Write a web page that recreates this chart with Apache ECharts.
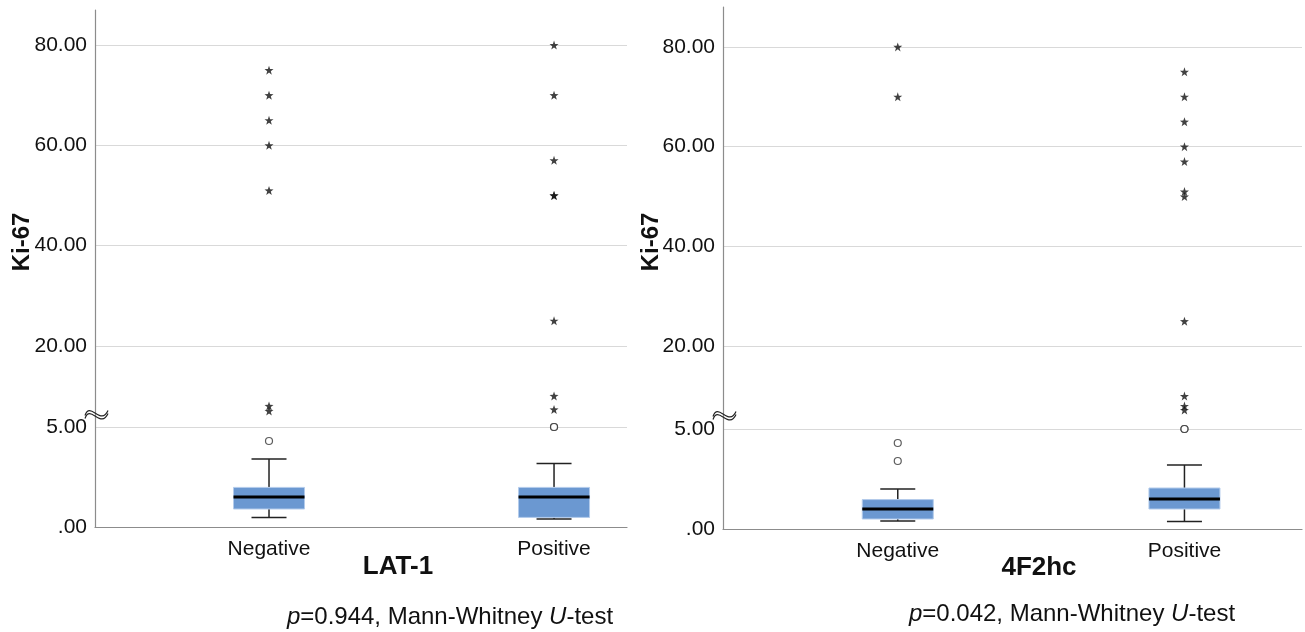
<!DOCTYPE html>
<html>
<head>
<meta charset="utf-8">
<script src="https://cdn.jsdelivr.net/npm/echarts@6/dist/echarts.min.js"></script>
<style>
html,body{margin:0;padding:0;background:#fff;}
#chart{width:1305px;height:632px;}
</style>
</head>
<body>
<div id="chart"></div>
<script>
// ---- data ----
const categories = ['Negative', 'Positive'];
const yTicksUpper = [20, 40, 60, 80];
const yTicksLower = [0, 5];
// LAT-1 : [min, Q1, median, Q3, max]
const lat1Box = [[0.48, 0.9, 1.5, 1.98, 3.4], [0.4, 0.48, 1.5, 1.98, 3.18]];
const lat1Circles = [[4.3], [5.0, 5.0]];
const lat1Stars = [[75, 70, 65, 60, 51, 8, 7], [80, 70, 57, 50, 50, 25, 10, 7.3]];
// 4F2hc
const f2Box = [[0.4, 0.5, 1.0, 1.47, 2.0], [0.38, 1.0, 1.5, 2.05, 3.2]];
const f2Circles = [[4.3, 3.4], [5.0, 5.0]];
const f2Stars = [[80, 70], [75, 70, 65, 60, 57, 51, 50, 25, 10, 8, 7.2]];
const titles = ['LAT-1', '4F2hc'];
const pValues = ['0.944', '0.042'];
const BREAK = 6;

// ---- layout / style ----
const BOX_W = 71, CAP_W = 35;
const AXIS_COLOR = '#8c8c8c', GRID_COLOR = '#d9d9d9', TEXT = '#111';
const STAR = 'path://M0,-10 L2.35,-3.24 L9.51,-3.09 L3.8,1.24 L5.88,8.09 L0,4 L-5.88,8.09 L-3.8,1.24 L-9.51,-3.09 L-2.35,-3.24 Z';

const panels = [
  {box: lat1Box, circles: lat1Circles, stars: lat1Stars, left: 95, width: 532,
   upTop: 10, upH: 406, upMax: 87, lowH: 111, lowMax: 5.55, xMin: -0.6105, xMax: 1.256},
  {box: f2Box, circles: f2Circles, stars: f2Stars, left: 723, width: 579,
   upTop: 7, upH: 409, upMax: 88, lowH: 113, lowMax: 5.65, xMin: -0.6096, xMax: 1.41}
];

function pts(groups, test) {
  const out = [];
  groups.forEach((vals, i) => vals.forEach(v => { if (test(v)) out.push([i, v]); }));
  return out;
}

function renderBox(params, api) {
  const x = api.value(0);
  const v = [1, 2, 3, 4, 5].map(d => api.value(d));
  const p = v.map(val => api.coord([x, val]));
  const cx = p[2][0], hw = BOX_W / 2, cw = CAP_W / 2;
  const ws = {stroke: '#222', lineWidth: 1.5};
  return {type: 'group', children: [
    {type: 'line', shape: {x1: cx, y1: p[4][1], x2: cx, y2: p[3][1]}, style: ws},
    {type: 'line', shape: {x1: cx, y1: p[1][1], x2: cx, y2: p[0][1]}, style: ws},
    {type: 'line', shape: {x1: cx - cw, y1: p[4][1], x2: cx + cw, y2: p[4][1]}, style: ws},
    {type: 'line', shape: {x1: cx - cw, y1: p[0][1], x2: cx + cw, y2: p[0][1]}, style: ws},
    {type: 'rect', shape: {x: cx - hw, y: p[3][1], width: 2 * hw, height: p[1][1] - p[3][1]},
     style: {fill: '#6b98d1', stroke: '#b3cbeb', lineWidth: 1}},
    {type: 'line', shape: {x1: cx - hw, y1: p[2][1], x2: cx + hw, y2: p[2][1]}, style: {stroke: '#000', lineWidth: 3}}
  ]};
}

const grid = [], xAxis = [], yAxis = [], series = [];
panels.forEach((P, k) => {
  const lowTop = P.upTop + P.upH;
  grid.push({left: P.left, top: P.upTop, width: P.width, height: P.upH});
  grid.push({left: P.left, top: lowTop, width: P.width, height: P.lowH});
  const up = 2 * k, lo = 2 * k + 1;
  xAxis.push({type: 'value', gridIndex: up, min: P.xMin, max: P.xMax, show: false});
  xAxis.push({type: 'value', gridIndex: lo, min: P.xMin, max: P.xMax,
    axisLine: {show: true, onZero: false, lineStyle: {color: AXIS_COLOR, width: 1.2}},
    axisTick: {show: false, customValues: [0, 1]}, splitLine: {show: false},
    axisLabel: {customValues: [0, 1], formatter: v => categories[Math.round(v)] || '',
      fontSize: 21, color: TEXT, margin: 12, fontFamily: 'Liberation Sans'}});
  yAxis.push({type: 'value', gridIndex: up, min: BREAK, max: P.upMax,
    axisLine: {show: true, onZero: false, lineStyle: {color: AXIS_COLOR, width: 1.2}},
    axisTick: {show: false, customValues: yTicksUpper},
    splitLine: {show: true, lineStyle: {color: GRID_COLOR, width: 1.2}},
    axisLabel: {customValues: yTicksUpper, formatter: v => v.toFixed(2),
      fontSize: 21, color: TEXT, margin: 8, padding: [4, 0, 0, 0], fontFamily: 'Liberation Sans'}});
  yAxis.push({type: 'value', gridIndex: lo, min: 0, max: P.lowMax,
    axisLine: {show: true, onZero: false, lineStyle: {color: AXIS_COLOR, width: 1.2}},
    axisTick: {show: false, customValues: yTicksLower},
    splitLine: {show: true, lineStyle: {color: GRID_COLOR, width: 1.2}},
    axisLabel: {customValues: yTicksLower, formatter: v => v === 0 ? '.00' : v.toFixed(2),
      fontSize: 21, color: TEXT, margin: 8, padding: [4, 0, 0, 0], fontFamily: 'Liberation Sans'}});

  series.push({type: 'custom', xAxisIndex: lo, yAxisIndex: lo, renderItem: renderBox,
    encode: {x: 0, y: [1, 2, 3, 4, 5]}, data: P.box.map((b, i) => [i].concat(b)), z: 2, clip: false});
  const starStyle = {symbol: STAR, symbolSize: 9, itemStyle: {color: '#111'}, z: 5, silent: true};
  const circStyle = {symbol: 'circle', symbolSize: 7, itemStyle: {color: '#fff', borderColor: '#333', borderWidth: 1.2}, z: 5, silent: true};
  series.push(Object.assign({type: 'scatter', xAxisIndex: up, yAxisIndex: up, data: pts(P.stars, v => v >= BREAK)}, starStyle));
  series.push(Object.assign({type: 'scatter', xAxisIndex: lo, yAxisIndex: lo, data: pts(P.stars, v => v < BREAK)}, starStyle));
  series.push(Object.assign({type: 'scatter', xAxisIndex: lo, yAxisIndex: lo, data: pts(P.circles, v => v < BREAK)}, circStyle));
  series.push(Object.assign({type: 'scatter', xAxisIndex: up, yAxisIndex: up, data: pts(P.circles, v => v >= BREAK)}, circStyle));
});

function tilde(x, y) {
  const mk = dy => ({type: 'bezierCurve', x: x, y: y + dy, z: 10,
    shape: {x1: 0, y1: 9, cpx1: 5, cpy1: -6, cpx2: 16, cpy2: 20, x2: 23, y2: 4},
    style: {stroke: '#222', fill: null, lineWidth: 1.2}});
  return [mk(-1.5), mk(1.5)];
}

const graphic = [
  {type: 'text', x: 22, y: 242, rotation: Math.PI / 2, style: {text: 'Ki-67', font: 'bold 24px "Liberation Sans"', fill: TEXT, align: 'center', verticalAlign: 'middle'}},
  {type: 'text', x: 651, y: 242, rotation: Math.PI / 2, style: {text: 'Ki-67', font: 'bold 24px "Liberation Sans"', fill: TEXT, align: 'center', verticalAlign: 'middle'}},
  {type: 'text', x: 398, y: 567, style: {text: titles[0], font: 'bold 26px "Liberation Sans"', fill: TEXT, align: 'center', verticalAlign: 'middle'}},
  {type: 'text', x: 1039, y: 568, style: {text: titles[1], font: 'bold 26px "Liberation Sans"', fill: TEXT, align: 'center', verticalAlign: 'middle'}},
  ...[[450, 617, pValues[0]], [1072, 614, pValues[1]]].map(([x, y, pv]) => ({type: 'text', x: x, y: y,
    style: {text: '{i|p}{n|=' + pv + ', Mann-Whitney }{i|U}{n|-test}', align: 'center', verticalAlign: 'middle',
      rich: {i: {fontStyle: 'italic', fontSize: 24, fontFamily: 'Liberation Sans', fill: TEXT},
             n: {fontSize: 24, fontFamily: 'Liberation Sans', fill: TEXT}}}})),
  ...tilde(85, 408),
  ...tilde(713, 409)
];

const chart = echarts.init(document.getElementById('chart'), null, {renderer: 'canvas'});
chart.setOption({animation: false, backgroundColor: '#fff', textStyle: {fontFamily: 'Liberation Sans'},
  grid, xAxis, yAxis, series, graphic});
</script>
</body>
</html>
